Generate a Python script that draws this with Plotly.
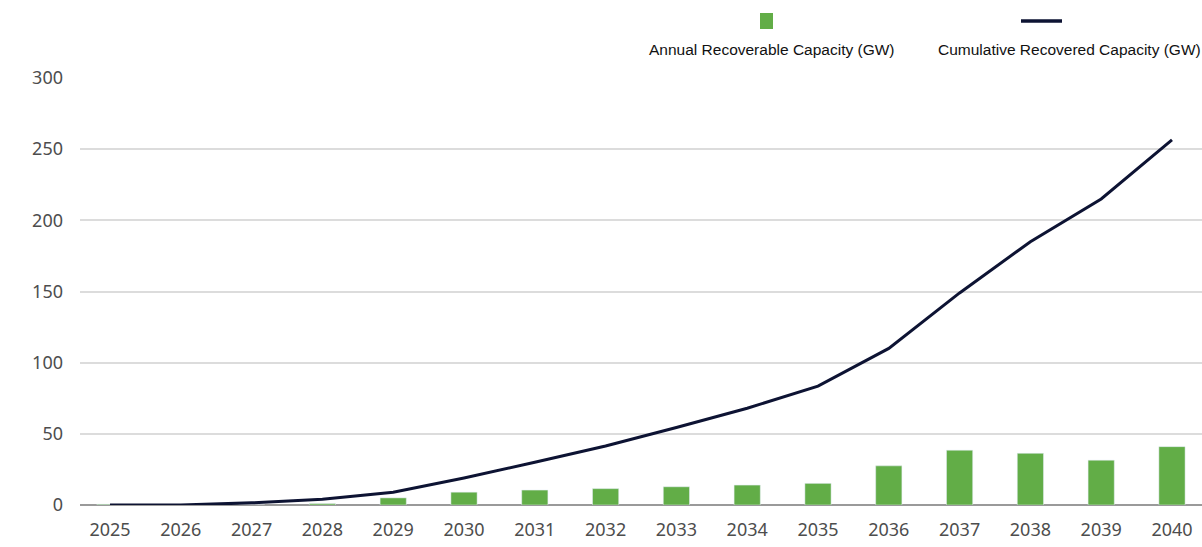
import plotly.graph_objects as go

years = [str(y) for y in range(2025, 2041)]
annual_gw = [0.5, 0, 0, 1, 5, 9, 10.5, 11.5, 12.8, 14, 15.2, 27.5, 38.5, 36.3, 31.5, 41]
cumulative_gw = [0, 0, 1.5, 4, 9, 19, 30, 41.5, 54.5, 68, 83.5, 110, 149, 185, 215, 256.5]
y_ticks = [0, 50, 100, 150, 200, 250, 300]

bar_color = "#62ad47"
line_color = "#0d1333"
tick_font = dict(family="Noto Sans, DejaVu Sans, sans-serif", size=18, color="#4d4d4d")

fig = go.Figure()
fig.add_trace(go.Bar(x=years, y=annual_gw, marker_color=bar_color,
                     name="Annual Recoverable Capacity (GW)"))
fig.add_trace(go.Scatter(x=years, y=cumulative_gw, mode="lines",
                         line=dict(color=line_color, width=3),
                         name="Cumulative Recovered Capacity (GW)"))

# custom legend: symbol above each label
legend_font = dict(family="Liberation Sans, Arial, sans-serif", size=15.5, color="#111111")
fig.add_shape(type="rect", xref="paper", yref="paper",
              x0=(760 - 80) / 1122, x1=(773 - 80) / 1122,
              y0=1 + (78 - 29) / 427, y1=1 + (78 - 13) / 427,
              fillcolor=bar_color, line_width=0)
fig.add_annotation(xref="paper", yref="paper", x=(647 - 80) / 1122, y=1 + (78 - 50) / 427,
                   text="Annual Recoverable Capacity (GW)", showarrow=False,
                   font=legend_font, xanchor="left", yanchor="middle")
fig.add_shape(type="line", xref="paper", yref="paper",
              x0=(1021 - 80) / 1122, x1=(1062 - 80) / 1122,
              y0=1 + (78 - 21) / 427, y1=1 + (78 - 21) / 427,
              line=dict(color=line_color, width=3.5))
fig.add_annotation(xref="paper", yref="paper", x=(936 - 80) / 1122, y=1 + (78 - 50) / 427,
                   text="Cumulative Recovered Capacity (GW)", showarrow=False,
                   font=legend_font, xanchor="left", yanchor="middle")

fig.update_layout(
    width=1202, height=547,
    margin=dict(l=80, r=0, t=78, b=42),
    plot_bgcolor="white", paper_bgcolor="white",
    showlegend=False, bargap=0.63,
)
fig.update_xaxes(type="category", range=[-0.424, 15.424], showgrid=False,
                 tickfont=tick_font, ticks="", showline=False, ticklabelstandoff=12)
fig.update_yaxes(range=[0, 300], tickvals=y_ticks, showgrid=True,
                 gridcolor="#dcdcdc", gridwidth=2, zeroline=True,
                 zerolinecolor="#9a9a9a", zerolinewidth=2,
                 tickfont=tick_font, ticklabelstandoff=16)

fig.write_html("out.html")
